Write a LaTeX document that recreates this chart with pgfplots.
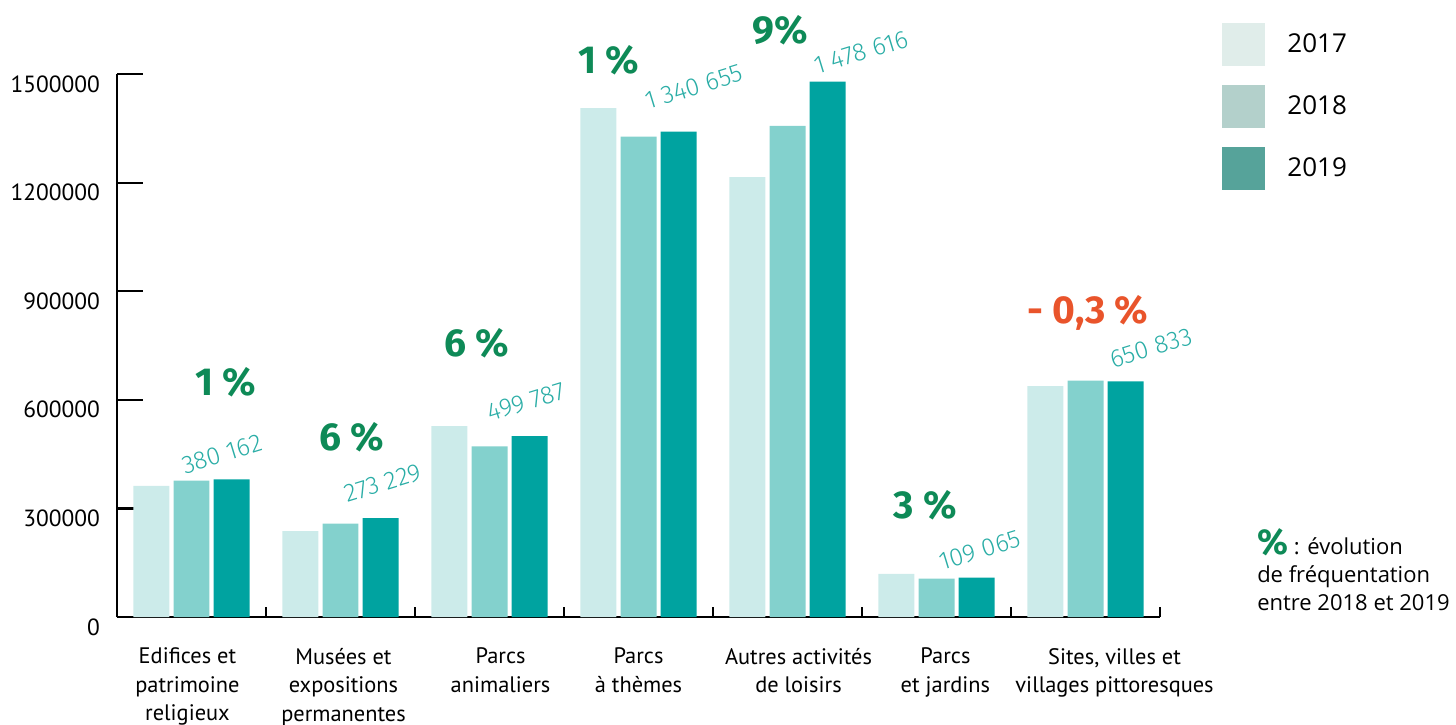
\documentclass[border=0pt]{standalone}
\usepackage{fontspec}
\setmainfont{PT Sans}
\newfontfamily\legfont{Open Sans}
\newfontfamily\pctfont{Fira Sans}
\newfontfamily\valfont{Fira Sans Light}
\usepackage{pgfplots}
\pgfplotsset{compat=1.18}

\definecolor{bar17}{HTML}{CCEBEA}
\definecolor{bar18}{HTML}{83D1CD}
\definecolor{bar19}{HTML}{00A3A0}
\definecolor{leg17}{HTML}{E0EDEA}
\definecolor{leg18}{HTML}{B3D0CB}
\definecolor{leg19}{HTML}{56A39A}
\definecolor{pctgreen}{HTML}{0E8A57}
\definecolor{pctorange}{HTML}{E9542B}
\definecolor{valteal}{HTML}{2AADA6}

\pgfplotsset{sqlegend/.style={legend image code/.code={\fill[##1] (0pt,-10.75pt) rectangle (21.5pt,10.75pt);}}}

\begin{document}
\begin{tikzpicture}
\begin{axis}[
    at={(0,0)}, anchor=south west,
    scale only axis, width=521.5pt, height=271.5pt,
    xmin=-0.5, xmax=6.5, ymin=0, ymax=1500000,
    axis x line*=bottom, axis y line*=left,
    axis line style={line width=1.3pt},
    clip=false,
    % label positions follow the reference (slightly off the group centres)
    xtick={-0.027,1.02,2.074,3.0,4.074,5.06,6.195},
    xticklabels={Edifices et\\patrimoine\\religieux, Musées et\\expositions\\permanentes,
      Parcs\\animaliers, Parcs\\à thèmes, Autres activités\\de loisirs,
      Parcs\\et jardins, {Sites, villes et\\villages pittoresques}},
    minor xtick={-0.5,0.5,...,6.5},
    ytick={0,300000,600000,900000,1200000,1500000},
    yticklabels={0,300000,600000,900000,1200000,1500000},
    tick align=inside,
    major tick length=13pt, minor tick length=5pt,
    major x tick style={draw=none},
    every tick/.style={black, line width=1.1pt},
    xticklabel style={align=center, font=\fontsize{11.2}{14.2}\selectfont, anchor=north, yshift=-12pt},
    yticklabel style={font=\fontsize{11.7}{13}\selectfont, yshift=-5pt, xshift=-5pt},
    scaled y ticks=false,
    legend style={at={(1.0595,1.094)}, anchor=north west, draw=none, fill=none,
      inner sep=0pt, font=\legfont\fontsize{13}{16}\selectfont, row sep=9.5pt,
      /tikz/every odd column/.append style={column sep=9pt}},
    legend cell align=left,
]
\addplot[ybar, bar width=0.2416, bar shift=-0.2685, fill=bar17, draw=none, forget plot]
  coordinates {(0,362000) (1,237500) (2,527500) (3,1406000) (4,1215000) (5,119000) (6,638000)};
\addplot[ybar, bar width=0.2416, bar shift=0, fill=bar18, draw=none, forget plot]
  coordinates {(0,376400) (1,257800) (2,471500) (3,1327000) (4,1356500) (5,105900) (6,652800)};
\addplot[ybar, bar width=0.2416, bar shift=0.2685, fill=bar19, draw=none, forget plot]
  coordinates {(0,380162) (1,273229) (2,499787) (3,1340655) (4,1478616) (5,109065) (6,650833)};

\addlegendimage{sqlegend, fill=leg17, draw=none}
\addlegendentry{2017}
\addlegendimage{sqlegend, fill=leg18, draw=none}
\addlegendentry{2018}
\addlegendimage{sqlegend, fill=leg19, draw=none}
\addlegendentry{2019}

% evolution 2018-2019
\begin{scope}[every node/.style={font=\pctfont\bfseries\fontsize{19.5}{20}\selectfont, text=pctgreen}]
\node at (axis cs:0.2315,649000) {1 \%};
\node at (axis cs:1.077,497000) {6 \%};
\node at (axis cs:1.916,757000) {6 \%};
\node at (axis cs:2.802,1538000) {1 \%};
\node at (axis cs:3.950,1621000) {9\%};
\node at (axis cs:4.923,309000) {3 \%};
\node[text=pctorange] at (axis cs:6.017,839600) {- 0,3 \%};
\end{scope}

% 2019 values
\begin{scope}[every node/.style={rotate=17, font=\valfont\fontsize{12.6}{14}\selectfont, text=valteal}]
\node at (axis cs:0.205,450000) {380 162};
\node at (axis cs:1.285,370000) {273 229};
\node at (axis cs:2.245,594000) {499 787};
\node at (axis cs:3.372,1464000) {1 340 655};
\node at (axis cs:4.493,1560000) {1 478 616};
\node at (axis cs:5.292,185000) {109 065};
\node at (axis cs:6.440,743000) {650 833};
\end{scope}

\node[anchor=north west, align=left, inner sep=0pt, font=\legfont\fontsize{11}{14}\selectfont]
  at (axis cs:7.15,245000)
  {{\pctfont\bfseries\color{pctgreen}\fontsize{18}{14}\selectfont\%} : évolution\\de fréquentation\\entre 2018 et 2019};
\end{axis}
\pgfresetboundingbox
\path (-58.5pt,-53.5pt) rectangle (669.5pt,308.5pt);
\end{tikzpicture}
\end{document}
